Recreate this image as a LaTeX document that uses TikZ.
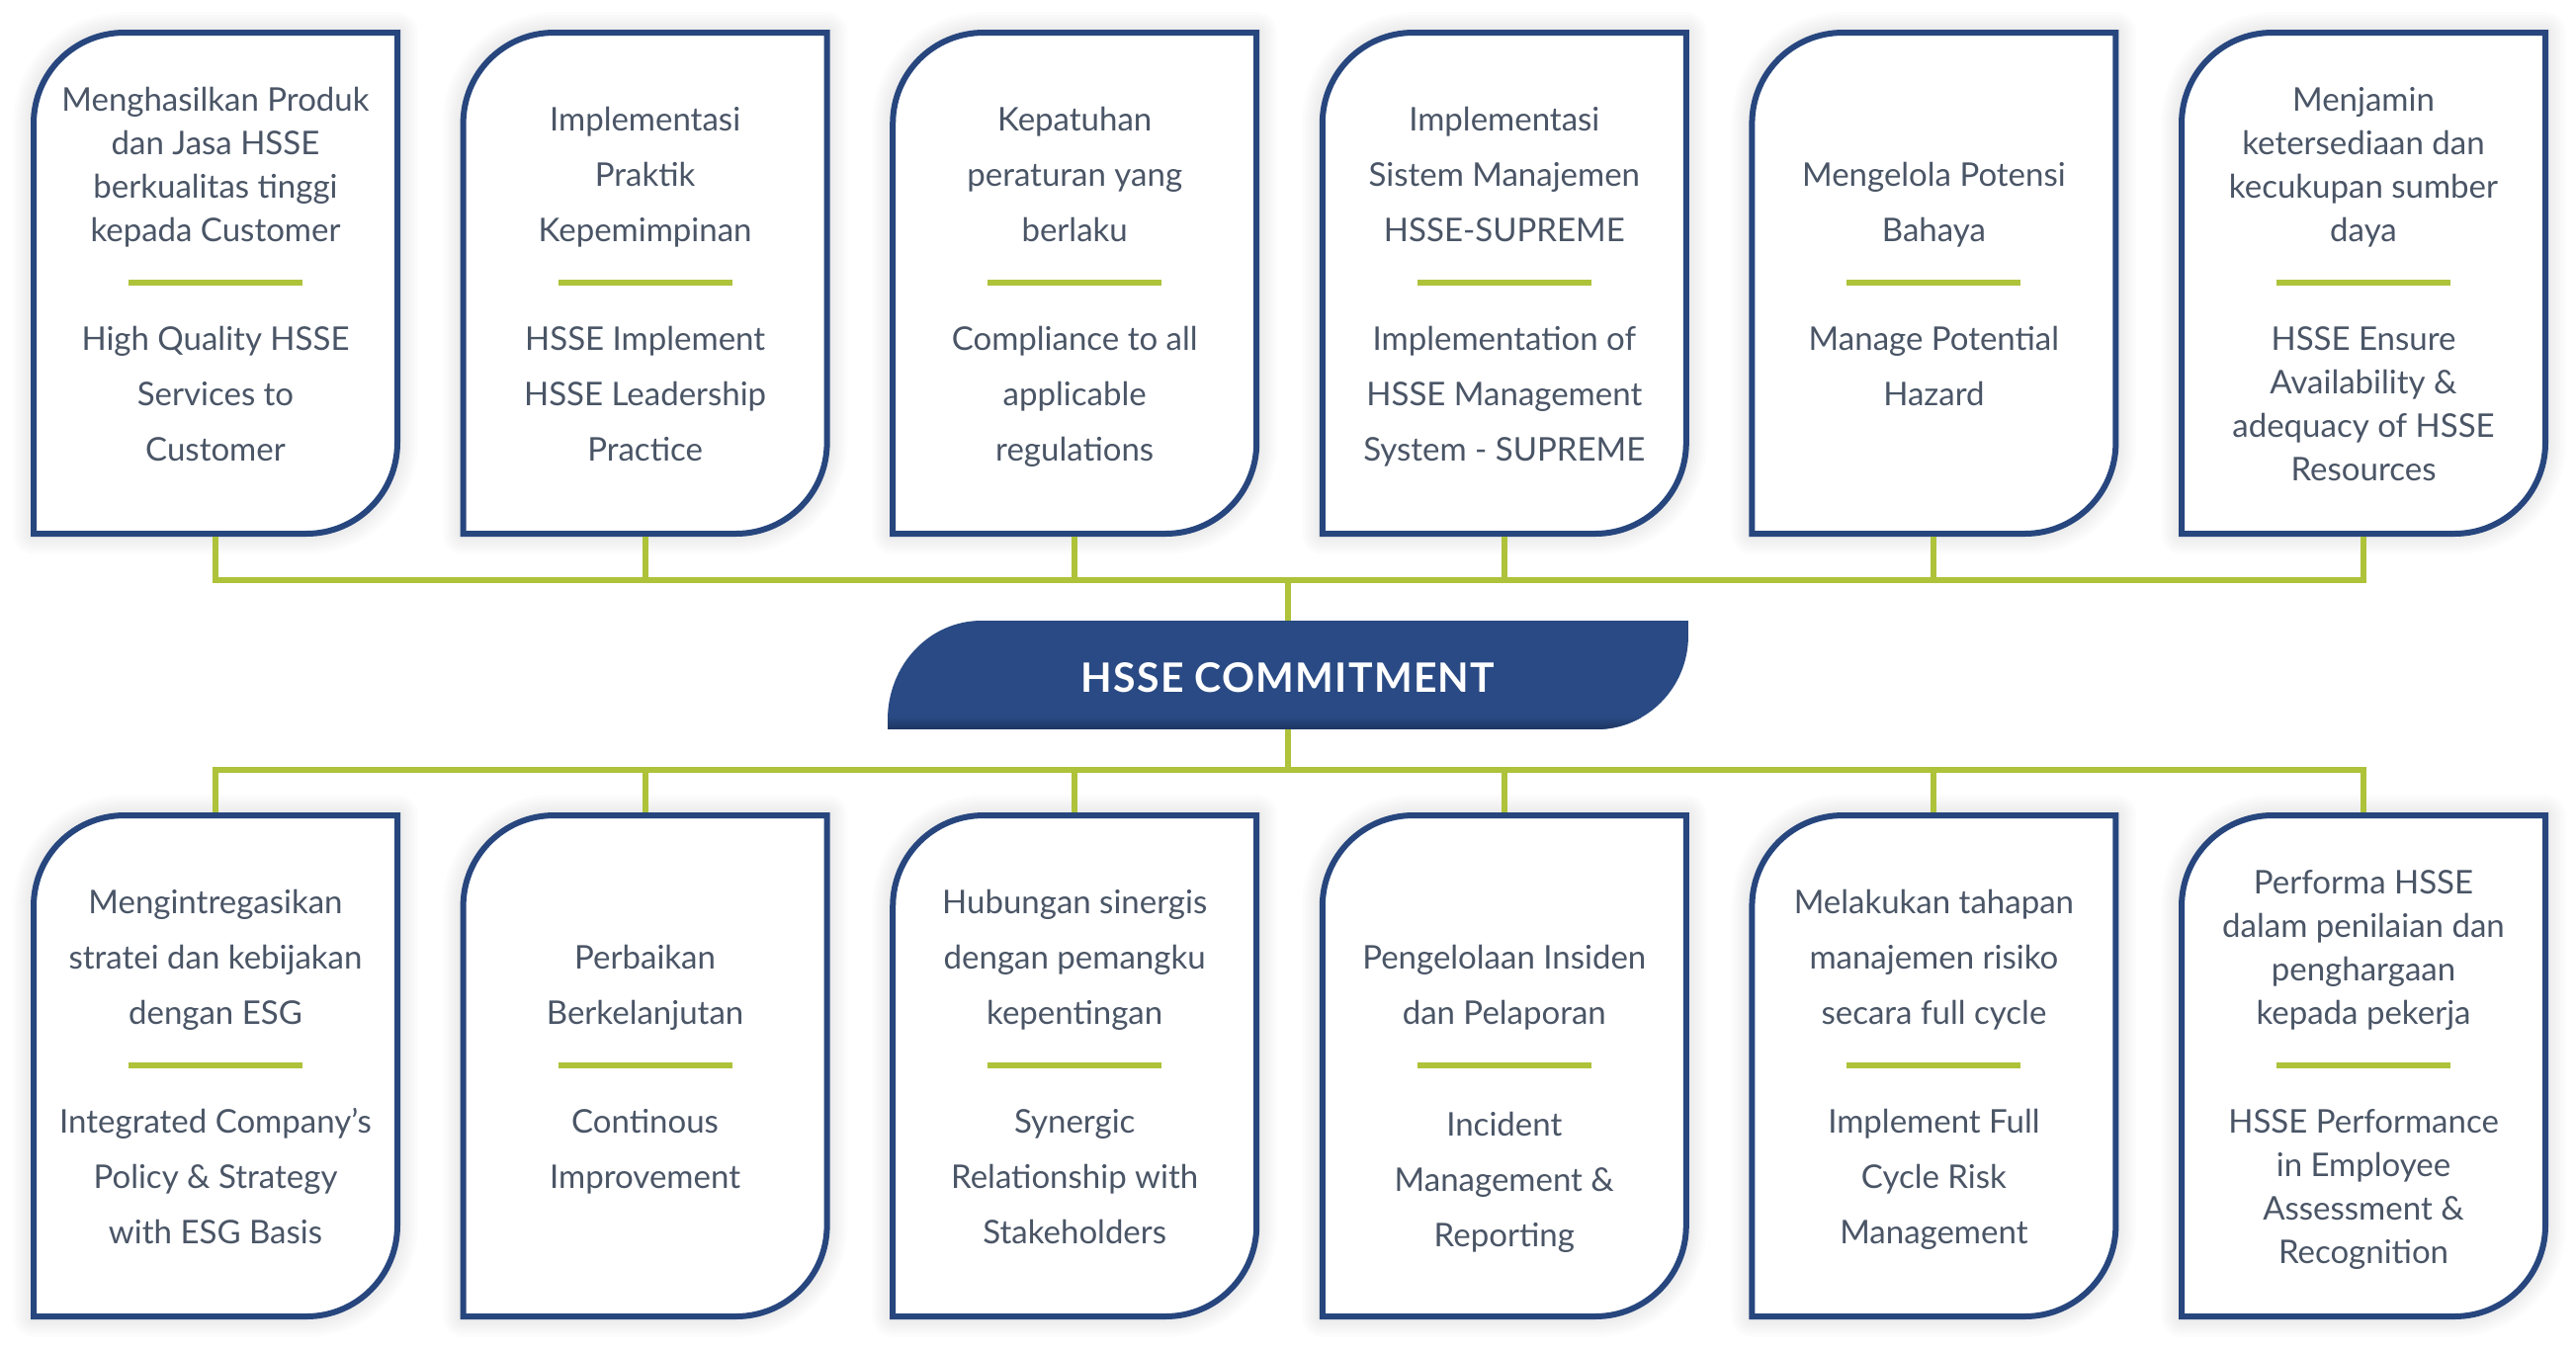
\documentclass[tikz,border=0pt]{standalone}
\usepackage{fontspec}
\setmainfont{Lato}
\usetikzlibrary{calc}

\definecolor{cardblue}{HTML}{27467E}
\definecolor{bannerblue}{HTML}{294A84}
\definecolor{bannerdark}{HTML}{1E3663}
\definecolor{hgreen}{HTML}{AEC23A}
\definecolor{txtgray}{HTML}{4A5566}

% invisible struts that fix the first baseline / last depth of a text block
\newcommand\capstrut{\rule{0pt}{33pt}}
\newcommand\descstrut{\rule[-10pt]{0pt}{10pt}}

\tikzset{
  cardbox/.style={rectangle,minimum width=368pt,minimum height=507pt,inner sep=0pt,outer sep=0pt},
  cardline/.style={draw=cardblue,line width=6pt,fill=white,line join=miter},
  cardglow/.style={draw=black,draw opacity=0.012,line join=round,xshift=1pt,yshift=-3pt},
  txtloose/.style={font=\fontsize{33pt}{56pt}\selectfont,text=txtgray,align=center,inner sep=0pt},
  txttight/.style={txtloose,font=\fontsize{33pt}{44pt}\selectfont},
  separator/.style={draw=hgreen,line width=6pt},
  bus/.style={draw=hgreen,line width=6pt},
  bannerbox/.style={rectangle,minimum width=810pt,minimum height=110pt,inner sep=0pt,outer sep=0pt},
  bannertext/.style={inner sep=0pt,text=white,
    font=\fontsize{41pt}{41pt}\selectfont\bfseries\addfontfeature{LetterSpace=3},
    text height=34pt,text depth=0pt},
}

% outline of a card: rounded top-left and bottom-right corners
\newcommand\cardpath[1]{(#1.south west) -- ($(#1.north west)+(0,92)$)
    .. controls ($(#1.north west)+(0,41)$) and ($(#1.north west)+(41,0)$) .. ($(#1.north west)+(92,0)$)
    -- (#1.north east) -- ($(#1.south east)+(0,-92)$)
    .. controls ($(#1.south east)+(0,-41)$) and ($(#1.south east)+(-41,0)$) .. ($(#1.south east)+(-92,0)$)
    -- cycle}

% #1 name, #2 x, #3 y of centre, #4 style of upper text, #5 upper text,
% #6 style of lower text, #7 lower text, #8 offset of lower text from the top
\newcommand\hssecard[8]{%
  \node[cardbox] (#1) at (#2,#3) {};
  \foreach \w in {12,18,24,30,36,42} \draw[cardglow,line width=\w pt] \cardpath{#1};
  \draw[cardline] \cardpath{#1};
  \draw[separator] ($(#1.north)+(-88,253)$) -- ($(#1.north)+(88,253)$);
  \node[#4,anchor=south] (#1-id) at ($(#1.north)+(0,222)$) {#5\descstrut};
  \node[#6,anchor=north] (#1-en) at ($(#1.north)+(0,#8)$) {\capstrut#7};
}

\begin{document}
\begin{tikzpicture}[x=1pt,y=-1pt]
\fill[white] (0,0) rectangle (2606,1366);
\useasboundingbox (0,0) rectangle (2606,1366);

% upper row
\hssecard{t1}{218}{286.5}{txttight}{Menghasilkan Produk\\dan Jasa HSSE\\berkualitas tinggi\\kepada Customer}
  {txtloose}{High Quality HSSE\\Services to\\Customer}{288}
\hssecard{t2}{652.6}{286.5}{txtloose}{Implementasi\\Praktik\\Kepemimpinan}
  {txtloose}{HSSE Implement\\HSSE Leadership\\Practice}{288}
\hssecard{t3}{1087.2}{286.5}{txtloose}{Kepatuhan\\peraturan yang\\berlaku}
  {txtloose}{Compliance to all\\applicable\\regulations}{288}
\hssecard{t4}{1521.8}{286.5}{txtloose}{Implementasi\\Sistem Manajemen\\HSSE-SUPREME}
  {txtloose}{Implementation of\\HSSE Management\\System - SUPREME}{288}
\hssecard{t5}{1956.4}{286.5}{txtloose}{Mengelola Potensi\\Bahaya}
  {txtloose}{Manage Potential\\Hazard}{288}
\hssecard{t6}{2391}{286.5}{txttight}{Menjamin\\ketersediaan dan\\kecukupan sumber\\daya}
  {txttight}{HSSE Ensure\\Availability \&\\adequacy of HSSE\\Resources}{288}

% lower row
\hssecard{b1}{218}{1078.5}{txtloose}{Mengintregasikan\\stratei dan kebijakan\\dengan ESG}
  {txtloose}{Integrated Company’s\\Policy \& Strategy\\with ESG Basis}{288}
\hssecard{b2}{652.6}{1078.5}{txtloose}{Perbaikan\\Berkelanjutan}
  {txtloose}{Continous\\Improvement}{288}
\hssecard{b3}{1087.2}{1078.5}{txtloose}{Hubungan sinergis\\dengan pemangku\\kepentingan}
  {txtloose}{Synergic\\Relationship with\\Stakeholders}{288}
\hssecard{b4}{1521.8}{1078.5}{txtloose}{Pengelolaan Insiden\\dan Pelaporan}
  {txtloose}{Incident\\Management \&\\Reporting}{291}
\hssecard{b5}{1956.4}{1078.5}{txtloose}{Melakukan tahapan\\manajemen risiko\\secara full cycle}
  {txtloose}{Implement Full\\Cycle Risk\\Management}{288}
\hssecard{b6}{2391}{1078.5}{txttight}{Performa HSSE\\dalam penilaian dan\\penghargaan\\kepada pekerja}
  {txttight}{HSSE Performance\\in Employee\\Assessment \&\\Recognition}{288}

% central banner with a darker band along its lower edge
\node[bannerbox] (hsse) at (1303,683) {};
\newcommand\bannerpath{(hsse.south west) -- ($(hsse.north west)+(0,100)$)
    .. controls ($(hsse.north west)+(0,45)$) and ($(hsse.north west)+(42,0)$) .. ($(hsse.north west)+(95,0)$)
    -- (hsse.north east) -- ($(hsse.south east)+(0,-95)$)
    .. controls ($(hsse.south east)+(0,-42)$) and ($(hsse.south east)+(-42,0)$) .. ($(hsse.south east)+(-93,0)$)
    -- cycle}
\begin{scope}
  \clip \bannerpath;
  \fill[bannerblue] (hsse.north west) rectangle (hsse.south east);
  \foreach \i/\p in {0/12,1/28,2/45,3/62,4/80,5/95}
    \fill[bannerdark!\p!bannerblue] ($(hsse.south west)+(0,-12+2*\i)$) rectangle ($(hsse.south east)+(0,-10+2*\i)$);
\end{scope}
\node[bannertext] (hsse-label) at (hsse.center) {HSSE COMMITMENT};

% connectors
\coordinate (topbus) at (1303,587);
\coordinate (botbus) at (1303,779);
\draw[bus,shorten <=3pt,shorten >=3pt] (t1.south) -- (t1.south |- topbus) -- (t6.south |- topbus) -- (t6.south);
\foreach \c in {t2,t3,t4,t5} \draw[bus,shorten <=3pt] (\c.south) -- (\c.south |- topbus);
\draw[bus] (topbus) -- (hsse.north);
\draw[bus] (hsse.south) -- (botbus);
\draw[bus,shorten <=3pt,shorten >=3pt] (b1.north) -- (b1.north |- botbus) -- (b6.north |- botbus) -- (b6.north);
\foreach \c in {b2,b3,b4,b5} \draw[bus,shorten <=3pt] (\c.north) -- (\c.north |- botbus);
\end{tikzpicture}
\end{document}
